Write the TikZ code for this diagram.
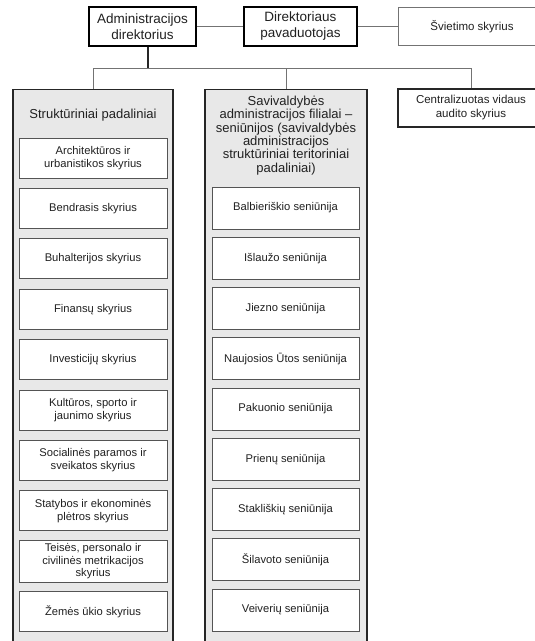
\documentclass[tikz,border=0pt]{standalone}
\usepackage{fontspec}
\setmainfont{Liberation Sans}
\definecolor{PanelClr}{rgb}{0.91,0.91,0.91}
\definecolor{EdgeClr}{rgb}{0.33,0.33,0.33}
\definecolor{LinkClr}{rgb}{0.45,0.45,0.45}
\definecolor{TxtClr}{rgb}{0.13,0.13,0.13}

\tikzset{
  topbox/.style={draw=black,line width=1.4pt,fill=white,align=center,text=TxtClr,
    font=\fontsize{13.5}{16}\selectfont,minimum height=39pt},
  sidebox/.style={draw=EdgeClr,line width=1pt,fill=white,align=center,text=TxtClr,
    font=\fontsize{11.5}{14}\selectfont,minimum height=38pt},
  panel/.style={draw=black!85,line width=1.1pt,fill=PanelClr,anchor=north,minimum height=570pt},
  paneltitle/.style={align=center,text=TxtClr,font=\fontsize{13}{13.3}\selectfont},
  unitbox/.style={draw=EdgeClr,line width=1pt,fill=white,align=center,text=TxtClr,
    font=\fontsize{11.2}{12.8}\selectfont,minimum height=40pt,inner sep=3pt},
  link/.style={draw=LinkClr,line width=1pt},
  mainlink/.style={draw=black!85,line width=1.5pt}
}

\begin{document}
\begin{tikzpicture}[x=1pt,y=-1pt]
\useasboundingbox (0,0) rectangle (535,641);
\clip (0,0) rectangle (535,641);

% top row
\node[topbox,minimum width=107pt] (adm) at (142.5,26.5) {Administracijos\\direktorius};
\node[topbox,minimum width=113pt] (dir) at (300.5,26.5) {Direktoriaus\\pavaduotojas};
\node[sidebox,draw=LinkClr,minimum width=148pt] (sviet) at (472,26.5) {Švietimo skyrius};
\draw[link] (adm) -- (dir);
\draw[link] (dir) -- (sviet);

% second row
\node[panel,minimum width=160pt] (struk) at (93,89) {};
\node[panel,minimum width=162pt] (savi) at (286,89) {};
\node[sidebox,draw=black!85,line width=1.3pt,minimum width=146pt] (audit) at (471,108) {Centralizuotas vidaus\\audito skyrius};

\coordinate (bus) at (0,68);
\draw[link] (struk.north) |- (bus -| audit.north) -- (audit.north);
\draw[link] (savi.north) -- (savi.north |- bus);
\draw[mainlink] ([xshift=5.5pt]adm.south) -- ([xshift=5.5pt]adm.south |- bus);

\node[paneltitle] (struktitle) at (93,115) {Struktūriniai padaliniai};
\node[paneltitle] (savititle) at (286,135.5) {Savivaldybės\\administracijos filialai –\\seniūnijos (savivaldybės\\administracijos\\struktūriniai teritoriniai\\padaliniai)};

% skyriai
\foreach \txt [count=\i] in {{Architektūros ir\\urbanistikos skyrius},Bendrasis skyrius,
    Buhalterijos skyrius,Finansų skyrius,Investicijų skyrius,
    {Kultūros, sporto ir\\jaunimo skyrius},{Socialinės paramos ir\\sveikatos skyrius},
    {Statybos ir ekonominės\\plėtros skyrius},{Teisės, personalo ir\\civilinės metrikacijos\\skyrius},
    Žemės ūkio skyrius}
  \node[unitbox,minimum width=148pt] (str\i) at (93,{158+50.4*(\i-1)}) {\txt};

% seniunijos
\foreach \txt [count=\i] in {Balbieriškio,Išlaužo,Jiezno,Naujosios Ūtos,Pakuonio,
    Prienų,Stakliškių,Šilavoto,Veiverių}
  \node[unitbox,minimum width=147pt,minimum height=42pt] (sen\i) at (285.5,{208+50.25*(\i-1)}) {\txt{} seniūnija};

\end{tikzpicture}
\end{document}
